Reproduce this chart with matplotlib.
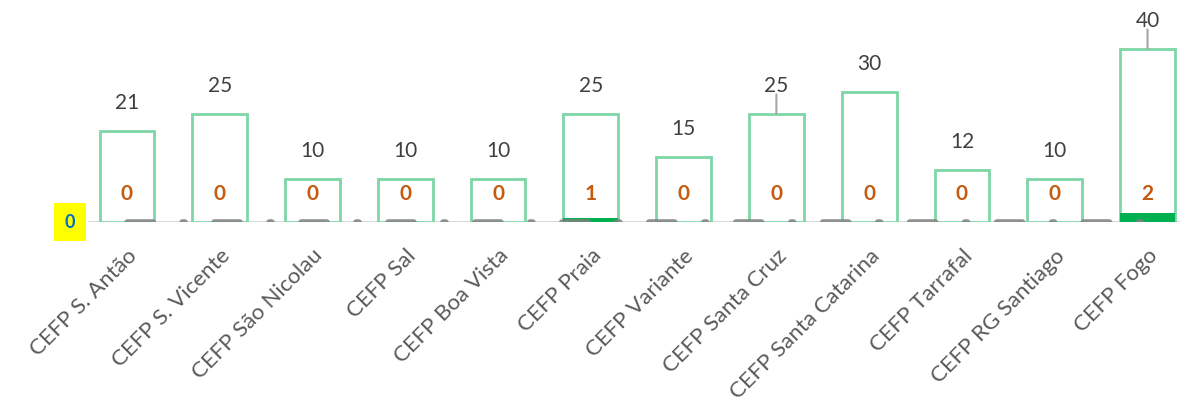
import numpy as np
import matplotlib.pyplot as plt

plt.rcParams['font.family'] = ['Lato', 'DejaVu Sans']
plt.rcParams['lines.scale_dashes'] = False

centros = ['CEFP S. Antão', 'CEFP S. Vicente', 'CEFP São Nicolau', 'CEFP Sal',
           'CEFP Boa Vista', 'CEFP Praia', 'CEFP Variante', 'CEFP Santa Cruz',
           'CEFP Santa Catarina', 'CEFP Tarrafal', 'CEFP RG Santiago', 'CEFP Fogo']
vagas = [21, 25, 10, 10, 10, 25, 15, 25, 30, 12, 10, 40]
inscritos = [0, 0, 0, 0, 0, 1, 0, 0, 0, 0, 0, 2]
linha = [0, 0, 0, 0, 0, 0, 0, 0, 0, 0, 0, 0]

ind = np.arange(len(centros))
width = 0.59

fig = plt.figure(figsize=(11.86, 4.01), dpi=100)
ax = fig.add_axes([88 / 1186, 179 / 401, 1092 / 1186, 222 / 401])
ax.set_xlim(-0.42, 11.35)
ax.set_ylim(0, 51.3)

ax.axhline(0, color='#d9d9d9', lw=1.5, zorder=1)

ax.bar(ind, vagas, width, facecolor='white', edgecolor='#7dd6a6', linewidth=2, zorder=2)
ax.bar(ind, inscritos, width, color='#00b050', zorder=3)

# linha tracejada cinzenta (traço longo - ponto)
ax.plot(ind, linha, color='#808080', lw=4.8, alpha=0.85, solid_capstyle='round',
        dash_capstyle='round', linestyle=(0, (18.2, 21.4, 1.6, 21.4)), zorder=4)

for i, v in enumerate(vagas):
    if centros[i] in ('CEFP Santa Cruz', 'CEFP Fogo'):
        ax.annotate('', xy=(i, v), xytext=(0, 14), textcoords='offset points',
                    arrowprops=dict(arrowstyle='-', color='#a6a6a6', lw=1.5, shrinkA=0, shrinkB=0))
    ax.annotate(str(v), xy=(i, v), xytext=(0, 20), textcoords='offset points',
                ha='center', va='center', fontsize=15, color='#404040')
    ax.annotate(str(inscritos[i]), xy=(i, 0), xytext=(0, 20), textcoords='offset points',
                ha='center', va='center', fontsize=15, color='#c55a11', fontweight='bold')

ax.annotate(str(linha[0]), xy=(0, linha[0]), xytext=(-41, 0), textcoords='offset points',
            ha='center', va='center', fontsize=13, color='#0070c0', fontweight='bold',
            bbox=dict(boxstyle='square,pad=0.6', facecolor='#ffff00', edgecolor='none'),
            annotation_clip=False, zorder=6)

ax.set_xticks(ind)
ax.set_xticklabels(centros, rotation=45, ha='right', rotation_mode='anchor',
                   fontsize=16, color='#595959')
ax.tick_params(axis='x', length=0, pad=17)
ax.set_yticks([])
for s in ax.spines.values():
    s.set_visible(False)

fig.savefig('out.png', dpi=100)
